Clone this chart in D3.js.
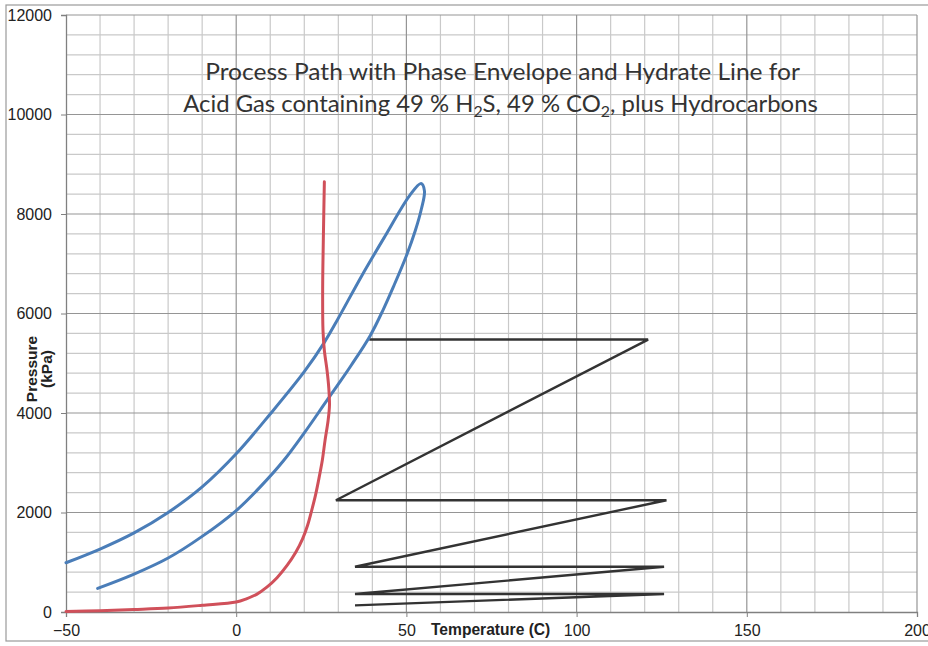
<!DOCTYPE html>
<html>
<head>
<meta charset="utf-8">
<script src="https://cdn.jsdelivr.net/npm/d3@7"></script>
<style>
body { margin: 0; background: #fff; }
svg { display: block; }
</style>
</head>
<body>
<script>
var width = 928;
var height = 646;
var plotLeft = 66, plotRight = 917, plotTop = 15, plotBottom = 612;

// tick labels
var tempTicks = [-50, 0, 50, 100, 150, 200];
var pressTicks = [0, 2000, 4000, 6000, 8000, 10000, 12000];

// hydrate line (red)
var hydrateT = [-50, -40, -30, -20, -10, 0, 3, 6, 9, 12, 15, 17.5, 19.5, 21, 22.2, 23.3, 24.2, 25.3, 26.1, 27, 27.4, 27.2, 26.7, 25.9, 25.5, 25.4, 25.6, 25.9];
var hydrateP = [10, 25, 50, 80, 135, 200, 265, 355, 500, 690, 940, 1200, 1470, 1750, 2050, 2350, 2648, 3050, 3450, 3850, 4150, 4500, 4850, 5256, 5657, 6500, 7500, 8650];

// phase envelope (blue), outer branch up, then inner branch down
var envelopeT = [-50, -40, -30, -20, -10, 0, 10, 20, 25.9, 29.8, 36.9, 43.8, 50.9, 54.3, 55.3, 54.4, 52.6, 50, 46.2, 43.2, 39.4, 33.8, 30, 26.6, 23.7, 20, 14, 7, 0, -10, -20, -30, -40.7];
var envelopeP = [990, 1265, 1590, 2000, 2514, 3180, 3980, 4830, 5420, 5880, 6760, 7563, 8365, 8612, 8465, 8100, 7663, 7161, 6540, 6080, 5560, 4960, 4580, 4250, 3960, 3600, 3050, 2510, 2040, 1520, 1085, 762, 475];

// process path (black)
var pathT = [34.9, 125.7, 34.9, 125.7, 34.9, 126.4, 29.3, 121, 39.1];
var pathP = [134, 361, 361, 909, 909, 2247, 2247, 5476, 5476];

var x = d3.scaleLinear()
.domain([-50, 200])
.range([plotLeft, plotRight]);

var y = d3.scaleLinear()
.domain([0, 12000])
.range([plotBottom, plotTop]);

var svg = d3.select("body").append("svg")
.attr("width", width)
.attr("height", height)
.style("font-family", "'Liberation Sans', Arial, sans-serif");

svg.append("rect")
.attr("width", width).attr("height", height)
.attr("fill", "#fff");

// scanned page frame
svg.append("rect")
.attr("x", 6).attr("y", 5)
.attr("width", 940).attr("height", 636)
.attr("fill", "none")
.attr("stroke", "#9a9a9a")
.attr("stroke-width", 1.2);

// minor grid
var grid = svg.append("g");
grid.selectAll(".vmin")
.data(d3.range(-40, 200, 10).filter(function(d) { return d % 50 != 0 }))
.enter().append("line")
.attr("x1", function(d) { return x(d) }).attr("x2", function(d) { return x(d) })
.attr("y1", plotTop).attr("y2", plotBottom)
.attr("stroke", "#c9c9c9").attr("stroke-width", 1.2);

grid.selectAll(".hmin")
.data(d3.range(400, 12000, 400).filter(function(d) { return d % 2000 != 0 }))
.enter().append("line")
.attr("y1", function(d) { return y(d) }).attr("y2", function(d) { return y(d) })
.attr("x1", plotLeft).attr("x2", plotRight)
.attr("stroke", "#c9c9c9").attr("stroke-width", 1.2);

// major grid
grid.selectAll(".vmaj")
.data(tempTicks.slice(1))
.enter().append("line")
.attr("x1", function(d) { return x(d) }).attr("x2", function(d) { return x(d) })
.attr("y1", plotTop).attr("y2", plotBottom)
.attr("stroke", "#959595").attr("stroke-width", 1.2);

grid.selectAll(".hmaj")
.data(pressTicks.slice(1))
.enter().append("line")
.attr("y1", function(d) { return y(d) }).attr("y2", function(d) { return y(d) })
.attr("x1", plotLeft).attr("x2", plotRight)
.attr("stroke", "#959595").attr("stroke-width", 1.2);

// axes
svg.append("g")
.attr("transform", "translate(" + plotLeft + ",0)")
.call(d3.axisLeft(y).tickValues(pressTicks).tickFormat(d3.format("d")).tickSize(5).tickPadding(9));

svg.append("g")
.attr("transform", "translate(0," + plotBottom + ")")
.call(d3.axisBottom(x).tickValues(tempTicks).tickFormat(d3.format("d")).tickSize(5).tickPadding(8));

svg.selectAll(".domain").attr("stroke", "#808080").attr("stroke-width", 1.3);
svg.selectAll(".tick line").attr("stroke", "#808080");
svg.selectAll(".tick text")
.attr("fill", "#222")
.attr("font-size", 16)
.style("font-size", "16px")
.style("font-family", "'Liberation Sans', Arial, sans-serif");

// axis titles
svg.append("text")
.attr("x", 431).attr("y", 635)
.attr("fill", "#222")
.style("font-size", "15.6px")
.style("font-weight", "bold")
.text("Temperature (C)");

var yTitle = svg.append("text")
.attr("transform", "translate(37,369) rotate(-90)")
.attr("text-anchor", "middle")
.attr("fill", "#222")
.style("font-size", "15.5px")
.style("font-weight", "bold");
yTitle.append("tspan").attr("x", 0).attr("y", 0).text("Pressure");
yTitle.append("tspan").attr("x", 0).attr("y", 15).text("(kPa)");

// curves
var envelope = envelopeT.map(function(t, i) { return [t, envelopeP[i]] });
var hydrate = hydrateT.map(function(t, i) { return [t, hydrateP[i]] });
var process = pathT.map(function(t, i) { return [t, pathP[i]] });

var smooth = d3.line()
.x(function(d) { return x(d[0]) })
.y(function(d) { return y(d[1]) })
.curve(d3.curveCatmullRom.alpha(0.5));

var straight = d3.line()
.x(function(d) { return x(d[0]) })
.y(function(d) { return y(d[1]) });

svg.append("path")
.attr("d", straight(process))
.attr("fill", "none")
.attr("stroke", "#333")
.attr("stroke-width", 2.4)
.attr("stroke-linejoin", "miter");

svg.append("path")
.attr("d", smooth(envelope))
.attr("fill", "none")
.attr("stroke", "#4a7db8")
.attr("stroke-width", 3)
.attr("stroke-linecap", "round");

svg.append("path")
.attr("d", smooth(hydrate))
.attr("fill", "none")
.attr("stroke", "#d0505a")
.attr("stroke-width", 3)
.attr("stroke-linecap", "round");

// title, two lines, each squeezed to the width of the original
function titleLine(cx, cy, targetWidth) {
    var g = svg.append("g")
    .attr("fill", "#333")
    .style("font-family", "Lato, 'Open Sans', sans-serif")
    .style("font-size", "24px");
    var t = g.append("text")
    .attr("text-anchor", "middle")
    .attr("x", 0).attr("y", cy);
    return { g: g, t: t, cx: cx, w: targetWidth };
}

function fit(line) {
    var w = line.t.node().getComputedTextLength();
    line.g.attr("transform", "translate(" + line.cx + ",0) scale(" + (line.w / w) + ",1)");
}

var l1 = titleLine(502.5, 80, 595);
l1.t.text("Process Path with Phase Envelope and Hydrate Line for");
fit(l1);

var l2 = titleLine(500.5, 112, 635);
l2.t.append("tspan").text("Acid Gas containing 49 % H");
l2.t.append("tspan").attr("dy", 5).style("font-size", "16px").text("2");
l2.t.append("tspan").attr("dy", -5).text("S, 49 % CO");
l2.t.append("tspan").attr("dy", 5).style("font-size", "16px").text("2");
l2.t.append("tspan").attr("dy", -5).text(", plus Hydrocarbons");
fit(l2);
</script>
</body>
</html>
